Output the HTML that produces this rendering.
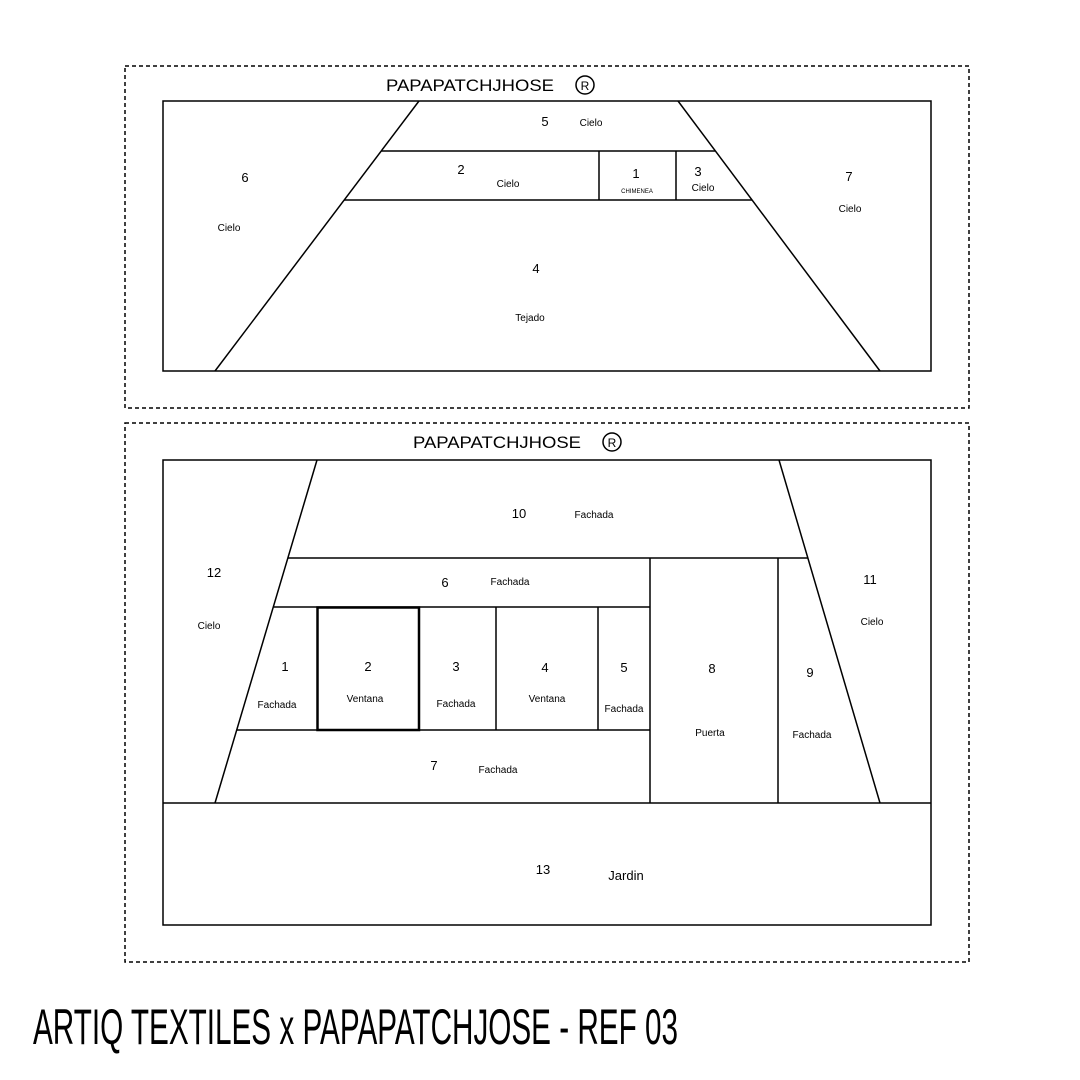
<!DOCTYPE html>
<html><head><style>body{margin:0;background:#fff}svg{display:block}</style></head>
<body>
<svg width="1080" height="1080" viewBox="0 0 1080 1080" xmlns="http://www.w3.org/2000/svg" font-family="Liberation Sans, Arial, sans-serif">
<rect width="1080" height="1080" fill="#fff"/>
<g fill="none" stroke="#000">
<rect x="125" y="66" width="844" height="342" stroke-width="1.5" stroke-dasharray="4,3"/>
<rect x="125" y="423" width="844" height="539" stroke-width="1.5" stroke-dasharray="4,3"/>
<g stroke-width="1.5">
<rect x="163" y="101" width="768" height="270"/>
<line x1="419" y1="101" x2="215" y2="371"/>
<line x1="678" y1="101" x2="880" y2="371"/>
<line x1="381" y1="151" x2="715" y2="151"/>
<line x1="344" y1="200" x2="752" y2="200"/>
<line x1="599" y1="151" x2="599" y2="200"/>
<line x1="676" y1="151" x2="676" y2="200"/>

<rect x="163" y="460" width="768" height="465"/>
<line x1="163" y1="803" x2="931" y2="803"/>
<line x1="317" y1="460" x2="215" y2="803"/>
<line x1="779" y1="460" x2="880" y2="803"/>
<line x1="288" y1="558" x2="808" y2="558"/>
<line x1="273" y1="607" x2="650" y2="607"/>
<line x1="237" y1="730" x2="650" y2="730"/>
<line x1="650" y1="558" x2="650" y2="803"/>
<line x1="778" y1="558" x2="778" y2="803"/>
<line x1="419" y1="607" x2="419" y2="730"/>
<line x1="496" y1="607" x2="496" y2="730"/>
<line x1="598" y1="607" x2="598" y2="730"/>
</g>
<rect x="317.5" y="607.5" width="101.5" height="122.5" stroke-width="2.5"/>
<circle cx="585" cy="85" r="9" stroke-width="1.5"/>
<circle cx="612" cy="442" r="9" stroke-width="1.5"/>
</g>
<g fill="#000" text-anchor="middle">
<text x="470" y="91" font-size="17" textLength="168" lengthAdjust="spacingAndGlyphs">PAPAPATCHJHOSE</text>
<text x="585" y="90" font-size="12">R</text>
<text x="497" y="448" font-size="17" textLength="168" lengthAdjust="spacingAndGlyphs">PAPAPATCHJHOSE</text>
<text x="612" y="447" font-size="12">R</text>

<g font-size="13">
<text x="545" y="126">5</text><text x="461" y="174">2</text><text x="636" y="178">1</text><text x="698" y="176">3</text>
<text x="245" y="182">6</text><text x="849" y="181">7</text><text x="536" y="273">4</text>
<text x="519" y="518">10</text><text x="214" y="577">12</text><text x="870" y="584">11</text><text x="445" y="587">6</text>
<text x="285" y="671">1</text><text x="368" y="671">2</text><text x="456" y="671">3</text><text x="545" y="672">4</text><text x="624" y="672">5</text>
<text x="712" y="673">8</text><text x="810" y="677">9</text><text x="434" y="770">7</text><text x="543" y="874">13</text>
</g>
<g font-size="10">
<text x="591" y="126">Cielo</text><text x="508" y="187">Cielo</text><text x="703" y="191">Cielo</text>
<text x="229" y="231">Cielo</text><text x="850" y="212">Cielo</text><text x="530" y="321">Tejado</text>
<text x="594" y="518">Fachada</text><text x="209" y="629">Cielo</text><text x="872" y="625">Cielo</text><text x="510" y="585">Fachada</text>
<text x="277" y="708">Fachada</text><text x="365" y="702">Ventana</text><text x="456" y="707">Fachada</text><text x="547" y="702">Ventana</text><text x="624" y="712">Fachada</text>
<text x="710" y="736">Puerta</text><text x="812" y="738">Fachada</text><text x="498" y="773">Fachada</text>
</g>
<text x="637" y="193" font-size="6">CHIMENEA</text>
<text x="626" y="880" font-size="13">Jardin</text>
</g>
<text x="33" y="1044" font-size="50" font-weight="normal" textLength="645" lengthAdjust="spacingAndGlyphs" font-family="Liberation Sans Narrow, Liberation Sans, sans-serif">ARTIQ TEXTILES x PAPAPATCHJOSE - REF 03</text>
</svg>
</body></html>
